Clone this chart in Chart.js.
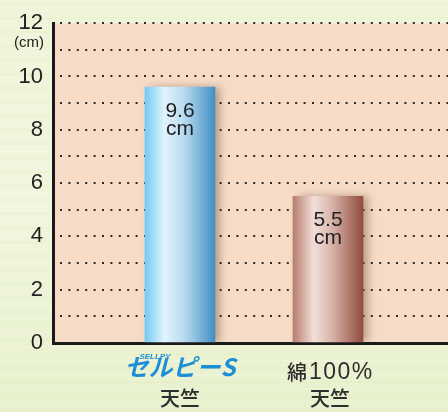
<!DOCTYPE html>
<html>
<head>
<meta charset="utf-8">
<script src="https://cdn.jsdelivr.net/npm/chart.js@4"></script>
<style>
html,body{margin:0;padding:0;background:#edf4d6;}
#wrap{width:448px;height:412px;position:relative;}
</style>
</head>
<body>
<div id="wrap"><canvas id="c" width="448" height="412"></canvas></div>
<script>
// ---- data ----
const categories = ["セルピーS 天竺", "綿100% 天竺"];
const categoryPositions = [1, 2];
const values = [9.6, 5.5];
const valueUnit = "cm";
const yTicks = [0, 2, 4, 6, 8, 10, 12];
const yUnitLabel = "(cm)";
const logoTop = "SELLPY";
const logoMain = "セルピーS";
const secondLabelA = "綿";
const secondLabelB = "100%";
const subLabel = "天竺";

const FONT = "'Liberation Sans', Arial, sans-serif";
const JFONT = "'Noto Sans CJK JP', sans-serif";

const gradStops = [
  [[0, '#74cbf3'], [0.28, '#e2f4fc'], [0.55, '#b9dcf1'], [1, '#448fc6']],
  [[0, '#b97d70'], [0.3, '#f1dfd9'], [0.55, '#d9b5ab'], [1, '#924c3d']]
];

function barFill(ctx) {
  const chart = ctx.chart;
  if (!chart.chartArea) return gradStops[ctx.dataIndex][0][1];
  const xs = chart.scales.x;
  const cx = xs.getPixelForValue(categoryPositions[ctx.dataIndex]);
  const g = chart.ctx.createLinearGradient(cx - 35, 0, cx + 35, 0);
  gradStops[ctx.dataIndex].forEach(s => g.addColorStop(s[0], s[1]));
  return g;
}

const bgPlugin = {
  id: 'bg',
  beforeDraw(chart) {
    const {ctx, chartArea: a, width, height} = chart;
    ctx.save();
    const g = ctx.createLinearGradient(0, 0, 0, height);
    g.addColorStop(0, '#eef5d9');
    g.addColorStop(0.5, '#f1f6df');
    g.addColorStop(1, '#e8f1cd');
    ctx.fillStyle = g;
    ctx.fillRect(0, 0, width, height);
    ctx.globalAlpha = 0.25;
    for (let y = 3; y < height; y += 7) {
      ctx.fillStyle = (y % 14 === 3) ? '#dfeabb' : '#f8fbea';
      ctx.fillRect(0, y, width, 2);
    }
    ctx.globalAlpha = 1;
    ctx.fillStyle = '#f6dcc7';
    ctx.fillRect(a.left, a.top, a.right - a.left, a.bottom - a.top);
    ctx.restore();
  },
  beforeDatasetsDraw(chart) {
    const ctx = chart.ctx;
    ctx.save();
    ctx.shadowColor = 'rgba(70,35,20,0.35)';
    ctx.shadowBlur = 8;
    ctx.shadowOffsetX = 5;
    ctx.shadowOffsetY = 0;
  },
  afterDatasetsDraw(chart) {
    const ctx = chart.ctx;
    ctx.restore();
    ctx.save();
    ctx.fillStyle = '#222';
    ctx.textAlign = 'center';
    ctx.textBaseline = 'middle';
    ctx.font = '21px ' + FONT;
    chart.getDatasetMeta(0).data.forEach((bar, i) => {
      ctx.fillText(String(values[i]), bar.x, bar.y + 24);
      ctx.fillText(valueUnit, bar.x, bar.y + 42);
    });
    ctx.restore();
  },
  afterDraw(chart) {
    const ctx = chart.ctx;
    const xs = chart.scales.x;
    const ys = chart.scales.y;
    ctx.save();
    ctx.fillStyle = '#222';
    ctx.textAlign = 'center';
    ctx.textBaseline = 'middle';
    ctx.font = '15px ' + FONT;
    ctx.fillText(yUnitLabel, 29, ys.getPixelForValue(12) + 20);

    const x1 = xs.getPixelForValue(categoryPositions[0]);
    ctx.fillStyle = '#1e8fd5';
    ctx.font = 'italic bold 24px ' + JFONT;
    ctx.fillText(logoMain, x1, 367);
    ctx.font = 'italic bold 8px ' + FONT;
    ctx.fillText(logoTop, x1 - 25, 357);
    ctx.fillStyle = '#2e2e2e';
    ctx.font = '500 20px ' + JFONT;
    ctx.fillText(subLabel, x1, 398);

    const x2 = xs.getPixelForValue(categoryPositions[1]);
    ctx.fillStyle = '#2e2e2e';
    ctx.textAlign = 'left';
    ctx.font = '500 20px ' + JFONT;
    ctx.fillText(secondLabelA, 287, 372);
    ctx.font = '23px ' + FONT;
    ctx.letterSpacing = '1.5px';
    ctx.fillText(secondLabelB, 309, 373);
    ctx.letterSpacing = '0px';
    ctx.textAlign = 'center';
    ctx.font = '500 20px ' + JFONT;
    ctx.fillText(subLabel, x2 + 2, 398);
    ctx.restore();
  }
};

new Chart(document.getElementById('c'), {
  type: 'bar',
  plugins: [bgPlugin],
  data: {
    datasets: [{
      data: categoryPositions.map((p, i) => ({x: p, y: values[i]})),
      backgroundColor: barFill,
      borderWidth: 0,
      barThickness: 70
    }]
  },
  options: {
    responsive: false,
    animation: false,
    events: [],
    layout: {padding: {top: 18, right: 0, left: 0, bottom: 0}},
    plugins: {legend: {display: false}, tooltip: {enabled: false}},
    scales: {
      x: {
        type: 'linear',
        offset: false,
        min: 0.142,
        max: 2.811,
        afterFit(s) { s.height = 69; },
        ticks: {display: false},
        grid: {display: false, drawTicks: false},
        border: {display: true, color: '#1a1a1a', width: 3}
      },
      y: {
        min: 0,
        max: 12,
        afterFit(s) { s.width = 53; },
        afterBuildTicks(s) {
          const t = [];
          for (let v = 0; v <= 12; v++) t.push({value: v});
          s.ticks = t;
        },
        ticks: {
          autoSkip: false,
          callback: v => yTicks.includes(v) ? String(v) : ' ',
          color: '#222',
          font: {size: 22, family: FONT},
          padding: 10
        },
        grid: {
          color: ctx => ctx.tick && ctx.tick.value === 0 ? 'rgba(0,0,0,0)' : '#2a2a2a',
          lineWidth: 2,
          drawTicks: false
        },
        border: {display: true, color: '#1a1a1a', width: 3, dash: [2, 6.4], dashOffset: -5}
      }
    }
  }
});
</script>
</body>
</html>
